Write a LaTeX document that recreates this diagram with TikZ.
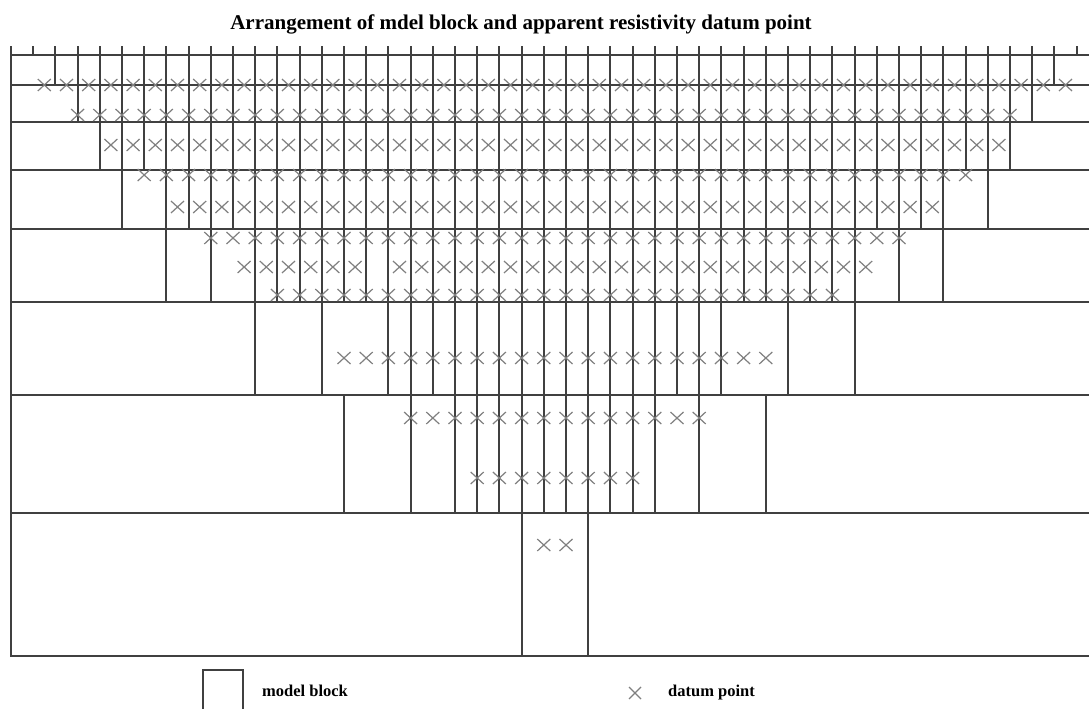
\documentclass[tikz,border=0pt]{standalone}
\usepackage{fontspec}
\setmainfont{Liberation Serif}
\begin{document}
\begin{tikzpicture}[x=1pt,y=-1pt,
  grid/.style={draw=black!75, line width=2pt, line cap=rect},
  dp/.style={draw=black!50, line width=1.2pt},
  ttl/.style={font=\bfseries\fontsize{21}{24}\selectfont, anchor=base, inner sep=0pt},
  lbl/.style={font=\bfseries\fontsize{16.5}{19}\selectfont, anchor=base west, inner sep=0pt}]
\useasboundingbox (0,0) rectangle (1089,709);
\fill[white] (0,0) rectangle (1089,709);
\begin{scope}
\clip (0,0) rectangle (1089,709);
% vertical segment through layer, snapped to whole pixels
\def\vseg#1#2#3{\pgfmathsetmacro\xx{round(11+22.2*#1)}\draw[grid] (\xx,#2) -- (\xx,#3);}
% electrode ticks
\foreach \k in {0,...,49} {\vseg{\k}{47}{55}}
% layer block boundaries
\foreach \k in {2,...,47} {\vseg{\k}{55}{85}}
\foreach \k in {3,...,46} {\vseg{\k}{85}{122}}
\foreach \k in {4,...,45} {\vseg{\k}{122}{170}}
\foreach \k in {5,7,8,...,42,44} {\vseg{\k}{170}{229}}
\foreach \k in {7,9,11,12,...,38,40,42} {\vseg{\k}{229}{302}}
\foreach \k in {11,14,17,18,...,32,35,38} {\vseg{\k}{302}{395}}
\foreach \k in {15,18,20,21,...,29,31,34} {\vseg{\k}{395}{513}}
\foreach \k in {23,26} {\vseg{\k}{513}{656}}
% layer lines and frame
\foreach \y in {55,85,122,170,229,302,395,513,656} \draw[grid] (11,\y) -- (1099,\y);
\draw[grid] (11,47) -- (11,656);
% datum points
\def\dpx#1#2{\draw[dp] ({11+22.2*(#1)-6.5},{#2-6}) -- ({11+22.2*(#1)+6.5},{#2+6}) ({11+22.2*(#1)-6.5},{#2+6}) -- ({11+22.2*(#1)+6.5},{#2-6});}
\foreach \k in {1,...,47} {\dpx{\k+0.5}{85}}
\foreach \k in {3,...,45} {\dpx{\k}{115}}
\foreach \k in {4,...,44} {\dpx{\k+0.5}{145}}
\foreach \k in {6,...,43} {\dpx{\k}{175}}
\foreach \k in {7,...,41} {\dpx{\k+0.5}{207}}
\foreach \k in {9,...,40} {\dpx{\k}{238}}
\foreach \k in {10,...,15,17,18,...,38} {\dpx{\k+0.5}{267}}
\foreach \k in {12,...,37} {\dpx{\k}{295}}
\foreach \k in {15,...,34} {\dpx{\k}{358}}
\foreach \k in {18,...,31} {\dpx{\k}{418}}
\foreach \k in {21,...,28} {\dpx{\k}{478}}
\foreach \k in {24,25} {\dpx{\k}{545}}
% legend
\draw[grid] (203,670) rectangle (243,720);
\draw[dp] (629,687) -- (641,699) (629,699) -- (641,687);
\end{scope}
\node[ttl] (title) at (521,30) {Arrangement of mdel block and apparent resistivity datum point};
\node[lbl] (lblock) at (262,696) {model block};
\node[lbl] (ldatum) at (668,696) {datum point};
\end{tikzpicture}
\end{document}
